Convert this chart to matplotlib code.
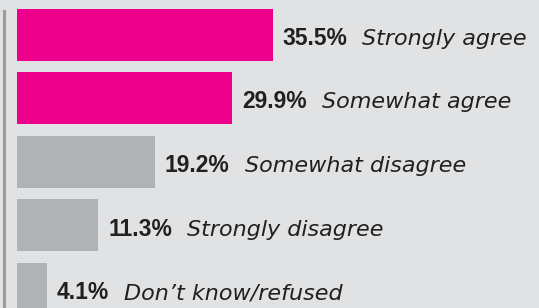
import matplotlib.pyplot as plt
from matplotlib.lines import Line2D

# survey answers, top to bottom
ANSWERS = ['Strongly agree', 'Somewhat agree', 'Somewhat disagree',
           'Strongly disagree', 'Don\u2019t know/refused']
PCT = [35.5, 29.9, 19.2, 11.3, 4.1]
COLORS = ['#ec008c', '#ec008c', '#b1b2b4', '#b1b2b4', '#b1b2b4']

BG = '#e1e2e4'
INK = '#231f20'

fig = plt.figure(figsize=(5.39, 3.08), dpi=100, facecolor=BG)
ax = fig.add_axes([17/539, 0, 522/539, 1])
ax.set_facecolor('none')
ax.axis('off')

ypos = list(range(len(PCT)))
ax.barh(ypos, PCT, height=0.82, color=COLORS)
ax.set_xlim(0, 522/7.2)
ax.set_ylim(4.30, -0.546)

for y, v, a in zip(ypos, PCT, ANSWERS):
    t = ax.annotate(f'{v}%', xy=(v, y + 0.16), xytext=(7, 0),
                    textcoords='offset points', va='baseline',
                    family='Liberation Sans', fontweight='bold',
                    size=16.5, color=INK)
    ax.annotate(a, xy=(1, y + 0.16), xycoords=(t, 'data'), xytext=(11, 0),
                textcoords='offset points', va='baseline',
                family='DejaVu Sans', style='italic', size=16, color=INK)

# left rule
fig.add_artist(Line2D([3.5/539, 3.5/539], [0, 1 - 11/308],
                      transform=fig.transFigure, color='#9c9c9c', lw=2.2))

fig.savefig('out.png', dpi=100, facecolor=BG)
